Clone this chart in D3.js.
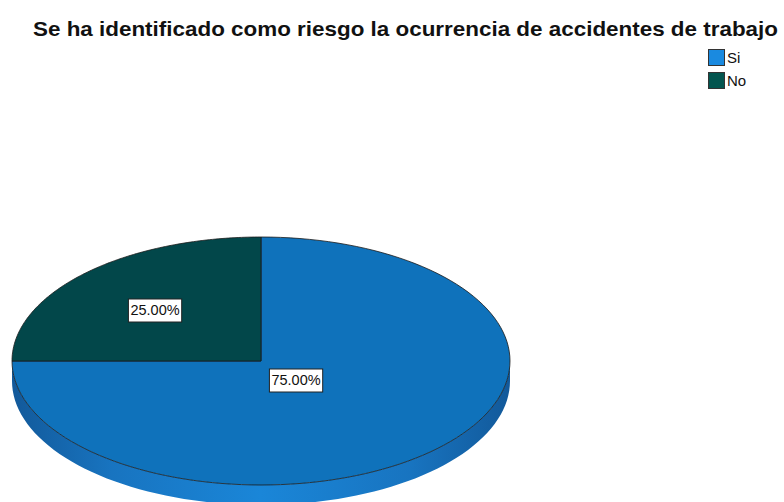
<!DOCTYPE html>
<html><head><meta charset="utf-8">
<script src="https://cdn.jsdelivr.net/npm/d3@7"></script>
<style>body{margin:0;background:#fff}svg{display:block}</style>
</head><body>
<script>
const title = "Se ha identificado como riesgo la ocurrencia de accidentes de trabajo";
const categories = ["Si", "No"];
const values = [75, 25];
const labels = ["75.00%", "25.00%"];
const topColors = ["#0f72bb", "#02474a"];
const legendColors = ["#1a8ae0", "#03554f"];

const W = 784, H = 502;
const svg = d3.select("body").append("svg").attr("width", W).attr("height", H);
const cx = 261, cy = 361, rx = 249, ry = 124, depth = 20;

svg.append("text").attr("x", 33).attr("y", 36)
  .attr("font-family", "Liberation Sans, Arial, sans-serif").attr("font-weight", "bold")
  .attr("font-size", 21).attr("fill", "#111")
  .attr("textLength", 745).attr("lengthAdjust", "spacingAndGlyphs").text(title);

const lg = svg.append("g");
categories.forEach((c, i) => {
  const y = 49 + i * 23;
  lg.append("rect").attr("x", 708.5).attr("y", y + 0.5).attr("width", 16).attr("height", 16)
    .attr("fill", legendColors[i]).attr("stroke", "#333").attr("stroke-width", 1);
  lg.append("text").attr("x", 727).attr("y", y + 14)
    .attr("font-family", "Liberation Sans, Arial, sans-serif").attr("font-size", 15)
    .attr("fill", "#111").text(c);
});

const pie = d3.pie().sort(null).value(d => d)(values);
const pt = (a, dy=0) => [cx + rx * Math.sin(a), cy - ry * Math.cos(a) + dy];

const defs = svg.append("defs");
const grad = defs.append("linearGradient").attr("id", "side").attr("x1", "0%").attr("x2", "100%");
[["0%", "#12599a"], ["20%", "#1874c0"], ["50%", "#1a86d8"], ["80%", "#1874c0"], ["100%", "#12599a"]]
  .forEach(([o, c]) => grad.append("stop").attr("offset", o).attr("stop-color", c));

// side walls (front half, angles pi/2 .. 3pi/2)
pie.forEach((d, i) => {
  const a0 = Math.max(d.startAngle, Math.PI / 2), a1 = Math.min(d.endAngle, 3 * Math.PI / 2);
  if (a1 <= a0) return;
  const n = 80, top = [], bot = [];
  for (let k = 0; k <= n; k++) {
    const a = a0 + (a1 - a0) * k / n;
    top.push(pt(a)); bot.push(pt(a, depth));
  }
  const pts = top.concat(bot.reverse());
  svg.append("path").attr("d", d3.line()(pts) + "Z")
    .attr("fill", i === 0 ? "url(#side)" : "#013a3c").attr("stroke", "none");
});

// top faces
pie.forEach((d, i) => {
  const n = 120, pts = [[cx, cy]];
  for (let k = 0; k <= n; k++) pts.push(pt(d.startAngle + (d.endAngle - d.startAngle) * k / n));
  svg.append("path").attr("d", d3.line()(pts) + "Z")
    .attr("fill", topColors[i]).attr("stroke", "#1a1a1a").attr("stroke-width", 0.8)
    .attr("stroke-linejoin", "round");
});

// labels
const labelPos = [[296, 380], [155, 310]];
pie.forEach((d, i) => {
  const [x, y] = labelPos[i];
  const g = svg.append("g");
  const t = g.append("text").attr("x", x).attr("y", y + 5).attr("text-anchor", "middle")
    .attr("font-family", "Liberation Sans, Arial, sans-serif").attr("font-size", 14.5)
    .attr("fill", "#111").text(labels[i]);
  const b = t.node().getBBox();
  g.insert("rect", "text").attr("x", b.x - 2).attr("y", y - 11).attr("width", b.width + 4)
    .attr("height", 23).attr("fill", "#fff").attr("stroke", "#222").attr("stroke-width", 1);
});
</script>
</body></html>
